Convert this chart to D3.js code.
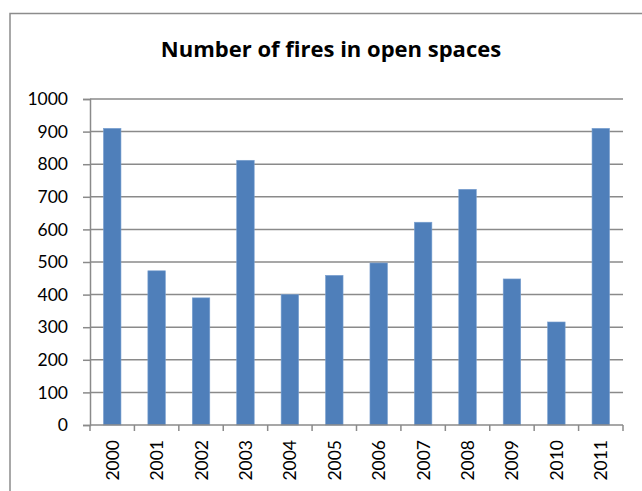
<!DOCTYPE html>
<html>
<head>
<meta charset="utf-8">
<script src="https://cdn.jsdelivr.net/npm/d3@7/dist/d3.min.js"></script>
<style>
  html, body { margin: 0; padding: 0; background: #fff; }
  svg { display: block; }
</style>
</head>
<body>
<script>
// Fires in open spaces per year
const years = ["2000","2001","2002","2003","2004","2005","2006","2007","2008","2009","2010","2011"];
const fires = [910, 473, 390, 812, 400, 459, 497, 622, 723, 448, 316, 910];
const yTicks = [0, 100, 200, 300, 400, 500, 600, 700, 800, 900, 1000];
const title = "Number of fires in open spaces";

const W = 642, H = 491;
const plot = { left: 90, right: 623, top: 99, bottom: 425 };
const font = "Lato, 'Open Sans', sans-serif";
const gridColor = "#8a8a8a";

const svg = d3.select("body").append("svg").attr("width", W).attr("height", H);

// chart frame
svg.append("path")
  .attr("d", `M10,${H + 2} V13.5 H${W + 2}`)
  .attr("fill", "none").attr("stroke", "#8c8c8c").attr("stroke-width", 1.5);

svg.append("text")
  .attr("x", 331).attr("y", 57)
  .attr("text-anchor", "middle")
  .attr("font-family", "'Open Sans', sans-serif").attr("font-weight", "bold").attr("font-size", 22)
  .attr("fill", "#000")
  .text(title);

const xb = d3.scaleBand().domain(years).range([plot.left, plot.right]);
const y = d3.scaleLinear().domain([0, 1000]).range([plot.bottom, plot.top]);
const barW = 17.5;

// horizontal gridlines
svg.append("g").selectAll("line").data(yTicks.filter(d => d > 0)).join("line")
  .attr("x1", plot.left).attr("x2", plot.right)
  .attr("y1", d => y(d)).attr("y2", d => y(d))
  .attr("stroke", gridColor).attr("stroke-width", 1.5);

// bars
svg.append("g").selectAll("rect").data(years).join("rect")
  .attr("x", d => xb(d) + xb.bandwidth() / 2 - barW / 2)
  .attr("width", barW)
  .attr("y", (d, i) => y(fires[i]))
  .attr("height", (d, i) => y(0) - y(fires[i]))
  .attr("fill", "#4f7fba")
  .attr("stroke", "#7aa0d0").attr("stroke-width", 0.6);

// y axis
const yAxis = d3.axisLeft(y).tickValues(yTicks).tickSize(7).tickPadding(15).tickFormat(d3.format("d"));
const gy = svg.append("g").attr("transform", `translate(${plot.left},0)`).call(yAxis);
gy.select(".domain").attr("stroke", gridColor).attr("stroke-width", 1.5);
gy.selectAll(".tick line").attr("stroke", gridColor).attr("stroke-width", 1.5);
gy.selectAll(".tick text").attr("font-family", font).attr("font-size", 17.5).attr("fill", "#000");

// x axis: ticks at category boundaries
const xAxisLine = svg.append("g");
xAxisLine.append("line")
  .attr("x1", plot.left).attr("x2", plot.right)
  .attr("y1", plot.bottom).attr("y2", plot.bottom)
  .attr("stroke", gridColor).attr("stroke-width", 1.5);
const bounds = years.map(d => xb(d)).concat([plot.right]);
xAxisLine.selectAll("line.tk").data(bounds).join("line").attr("class", "tk")
  .attr("x1", d => d).attr("x2", d => d)
  .attr("y1", plot.bottom).attr("y2", plot.bottom + 6)
  .attr("stroke", gridColor).attr("stroke-width", 1.5);

svg.append("g").selectAll("text").data(years).join("text")
  .attr("transform", d => `translate(${xb(d) + xb.bandwidth() / 2 + 6.5},440) rotate(-90)`)
  .attr("text-anchor", "end")
  .attr("font-family", font).attr("font-size", 17.5).attr("fill", "#000")
  .text(d => d);
</script>
</body>
</html>
